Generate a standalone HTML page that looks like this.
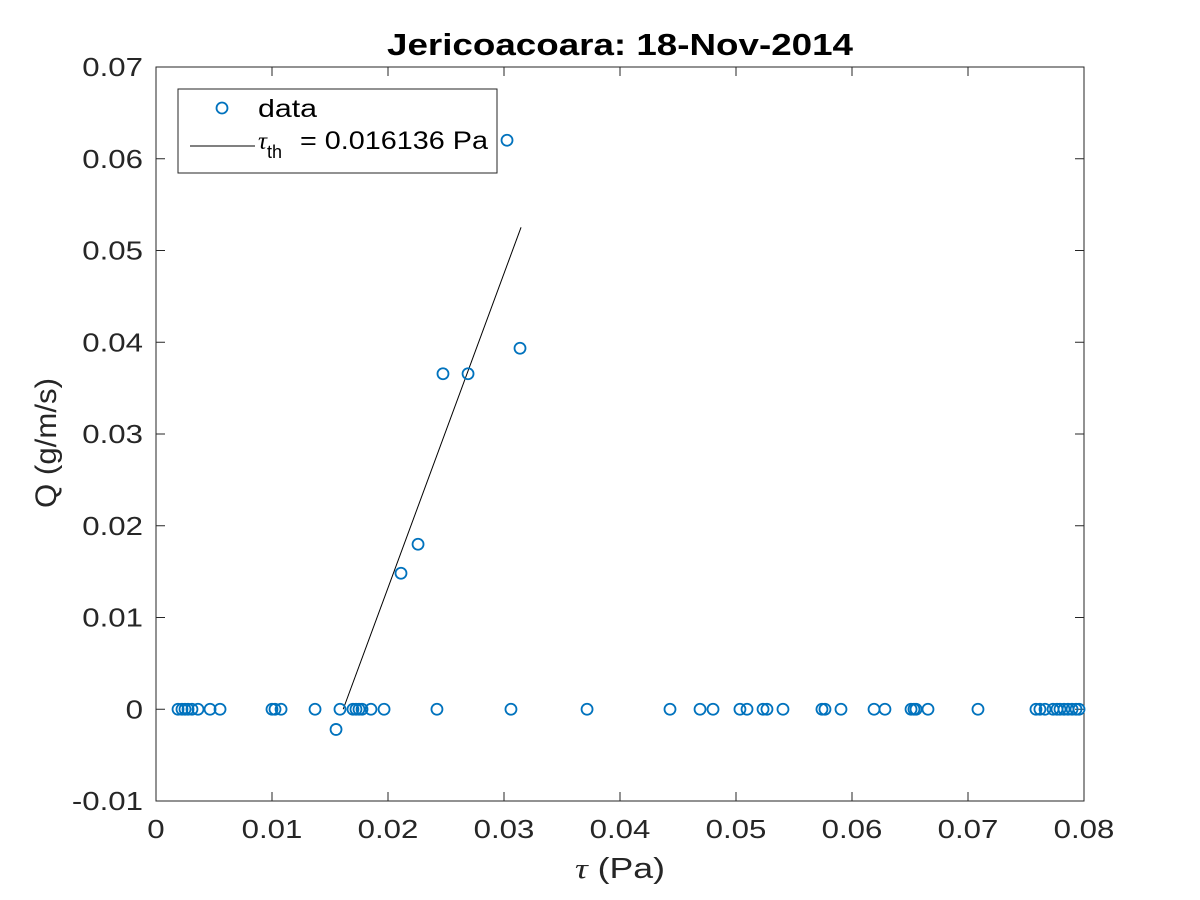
<!DOCTYPE html>
<html><head><meta charset="utf-8"><style>
body{margin:0;background:#fff}
svg{display:block;font-family:"Liberation Sans",Arial,sans-serif}
</style></head><body>
<svg id="chart" width="1200" height="900">
<rect width="1200" height="900" fill="#fff"/>
<rect x="156" y="67" width="928" height="734" fill="#fff" stroke="#262626" stroke-width="1"/>
<g id="ticks"></g>
<g id="marks"></g>
<text x="620" y="55" text-anchor="middle" font-size="31" font-weight="bold" fill="#000" textLength="466" lengthAdjust="spacingAndGlyphs">Jericoacoara: 18-Nov-2014</text>
<text x="620" y="878" text-anchor="middle" font-size="29" fill="#262626" textLength="90" lengthAdjust="spacingAndGlyphs"><tspan font-family="Liberation Serif" font-style="italic">τ</tspan> (Pa)</text>
<text transform="translate(56,443) rotate(-90)" text-anchor="middle" font-size="30" fill="#262626" textLength="130" lengthAdjust="spacingAndGlyphs">Q (g/m/s)</text>
<g>
<rect x="178" y="89" width="319" height="84" fill="#fff" stroke="#262626" stroke-width="1"/>
<circle cx="222" cy="108" r="5.5" fill="none" stroke="#0072bd" stroke-width="1.8"/>
<text x="258" y="117" font-size="25" fill="#000" textLength="59" lengthAdjust="spacingAndGlyphs">data</text>
<line x1="190" y1="146" x2="255" y2="146" stroke="#000" stroke-width="1"/>
<text x="258" y="149" font-size="25" fill="#000"><tspan font-family="Liberation Serif" font-style="italic">τ</tspan><tspan font-size="18" dy="9">th</tspan></text>
<text x="300" y="149" font-size="25" fill="#000" textLength="188" lengthAdjust="spacingAndGlyphs">= 0.016136 Pa</text>
</g>
</svg>
<script>
const xTicks=[0,0.01,0.02,0.03,0.04,0.05,0.06,0.07,0.08];
const xTickLabels=["0","0.01","0.02","0.03","0.04","0.05","0.06","0.07","0.08"];
const yTicks=[-0.01,0,0.01,0.02,0.03,0.04,0.05,0.06,0.07];
const yTickLabels=["-0.01","0","0.01","0.02","0.03","0.04","0.05","0.06","0.07"];
const tauData=[0.0019,0.00224,0.0025,0.00276,0.0031,0.00362,0.00466,0.00552,0.0100,0.01026,0.01078,0.01371,0.01552,0.01586,0.01698,0.01724,0.0175,0.01776,0.01853,0.01966,0.02422,0.0306,0.03716,0.04431,0.0469,0.04802,0.05034,0.05095,0.05233,0.05267,0.05405,0.05741,0.05767,0.05905,0.0619,0.06284,0.06509,0.06534,0.06552,0.06655,0.07086,0.07586,0.0762,0.07664,0.07733,0.07767,0.07793,0.07828,0.07862,0.07897,0.07931,0.07957,0.02112,0.02259,0.02474,0.0269,0.03026,0.03138];
const qData=[0,0,0,0,0,0,0,0,0,0,0,0,-0.0022,0,0,0,0,0,0,0,0,0,0,0,0,0,0,0,0,0,0,0,0,0,0,0,0,0,0,0,0,0,0,0,0,0,0,0,0,0,0,0,0.01482,0.01798,0.03657,0.03657,0.06202,0.03935];
const fitTau=[0.016136,0.03147];
const fitQ=[0,0.05253];
const NS="http://www.w3.org/2000/svg";
const X=v=>156+(v-0)/0.08*928;
const Y=v=>801-(v+0.01)/0.08*734;
const tk=document.getElementById('ticks'),mk=document.getElementById('marks');
function mkEl(t,a,p){const e=document.createElementNS(NS,t);for(const k in a)e.setAttribute(k,a[k]);p.appendChild(e);return e;}
function stretch(t){const w=t.getComputedTextLength();t.setAttribute('textLength',(w*1.2).toFixed(1));t.setAttribute('lengthAdjust','spacingAndGlyphs');}
xTicks.forEach((v,i)=>{const x=X(v);
const l1=mkEl('line',{x1:x,x2:x,y1:801,y2:792,stroke:'#262626'},tk);


mkEl('line',{x1:x,x2:x,y1:67,y2:76,stroke:'#262626'},tk);
const t=mkEl('text',{x:x,y:838,'text-anchor':'middle','font-size':26,fill:'#262626'},tk);t.textContent=xTickLabels[i];


stretch(t);});
yTicks.forEach((v,i)=>{const y=Y(v);
const l1=mkEl('line',{x1:156,x2:165,y1:y,y2:y,stroke:'#262626'},tk);


mkEl('line',{x1:1075,x2:1084,y1:y,y2:y,stroke:'#262626'},tk);
const t=mkEl('text',{x:143,y:y+9,'text-anchor':'end','font-size':26,fill:'#262626'},tk);t.textContent=yTickLabels[i];


stretch(t);});
const fl=mkEl('line',{x1:X(fitTau[0]),y1:Y(fitQ[0]),x2:X(fitTau[1]),y2:Y(fitQ[1]),stroke:'#000','stroke-width':1},mk);


tauData.forEach((v,i)=>{const c=mkEl('circle',{cx:X(v),cy:Y(qData[i]),r:5.5,fill:'none',stroke:'#0072bd','stroke-width':1.8},mk);

});
</script>
</body></html>
